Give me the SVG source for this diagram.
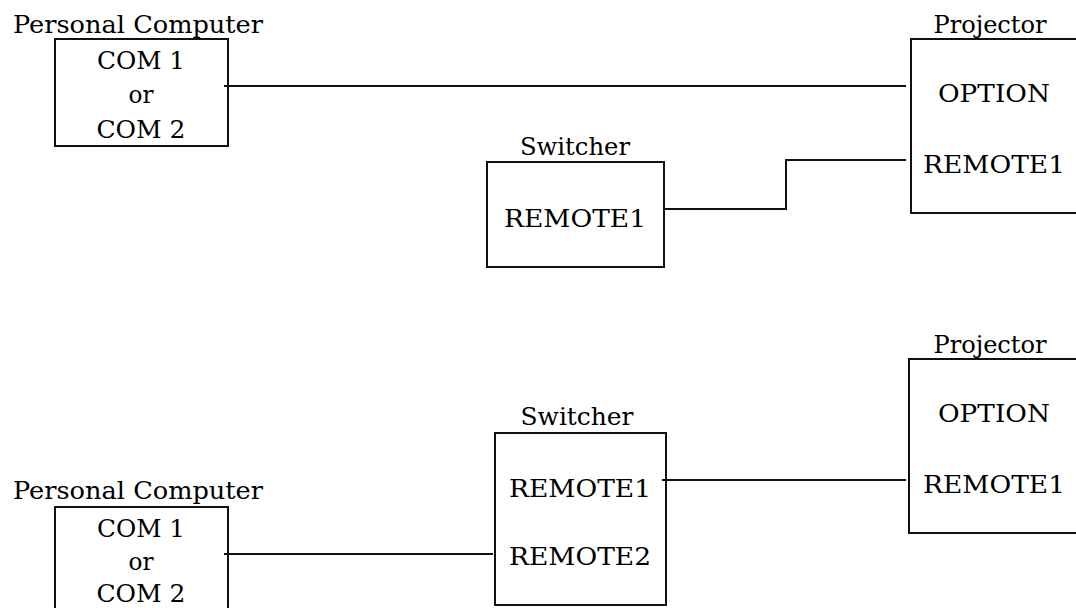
<svg xmlns="http://www.w3.org/2000/svg" width="1076" height="608" viewBox="0 0 1076 608">
<style>
text{font-family:"DejaVu Serif","Liberation Serif",serif;font-size:25px;fill:#000;text-anchor:middle}
.box{fill:none;stroke:#111;stroke-width:2}
.wire{fill:none;stroke:#111;stroke-width:2}
</style>
<rect width="1076" height="608" fill="#fff"/>
<g id="pc1">
<text x="138" y="33" textLength="250" lengthAdjust="spacingAndGlyphs">Personal Computer</text>
<rect class="box" x="55" y="39" width="173" height="107"/>
<text x="141" y="69" textLength="88" lengthAdjust="spacingAndGlyphs">COM 1</text>
<text x="141" y="103" textLength="25" lengthAdjust="spacingAndGlyphs">or</text>
<text x="141" y="138" textLength="89" lengthAdjust="spacingAndGlyphs">COM 2</text>
</g>
<g id="switcher1">
<text x="575" y="155" textLength="110" lengthAdjust="spacingAndGlyphs">Switcher</text>
<rect class="box" x="487" y="162" width="177" height="105"/>
<text x="575" y="227" textLength="142" lengthAdjust="spacingAndGlyphs">REMOTE1</text>
</g>
<g id="projector1">
<text x="990" y="33" textLength="113" lengthAdjust="spacingAndGlyphs">Projector</text>
<path class="box" d="M1080,39 H911 V213 H1080"/>
<text x="994" y="102" textLength="112" lengthAdjust="spacingAndGlyphs">OPTION</text>
<text x="994" y="173" textLength="142" lengthAdjust="spacingAndGlyphs">REMOTE1</text>
</g>
<g id="pc2">
<text x="138" y="499" textLength="250" lengthAdjust="spacingAndGlyphs">Personal Computer</text>
<rect class="box" x="55" y="507" width="173" height="107"/>
<text x="141" y="537" textLength="88" lengthAdjust="spacingAndGlyphs">COM 1</text>
<text x="141" y="570" textLength="25" lengthAdjust="spacingAndGlyphs">or</text>
<text x="141" y="602" textLength="89" lengthAdjust="spacingAndGlyphs">COM 2</text>
</g>
<g id="switcher2">
<text x="577" y="425" textLength="113" lengthAdjust="spacingAndGlyphs">Switcher</text>
<rect class="box" x="495" y="433" width="171" height="172"/>
<text x="580" y="497" textLength="142" lengthAdjust="spacingAndGlyphs">REMOTE1</text>
<text x="580" y="565" textLength="142" lengthAdjust="spacingAndGlyphs">REMOTE2</text>
</g>
<g id="projector2">
<text x="990" y="353" textLength="113" lengthAdjust="spacingAndGlyphs">Projector</text>
<path class="box" d="M1080,359 H909 V533 H1080"/>
<text x="994" y="422" textLength="112" lengthAdjust="spacingAndGlyphs">OPTION</text>
<text x="994" y="493" textLength="142" lengthAdjust="spacingAndGlyphs">REMOTE1</text>
</g>
<g id="connectors">
<path class="wire" d="M224,86 H906"/>
<path class="wire" d="M664,209 H786 V160 H906"/>
<path class="wire" d="M224,554 H493"/>
<path class="wire" d="M662,480 H906"/>
</g>
</svg>
